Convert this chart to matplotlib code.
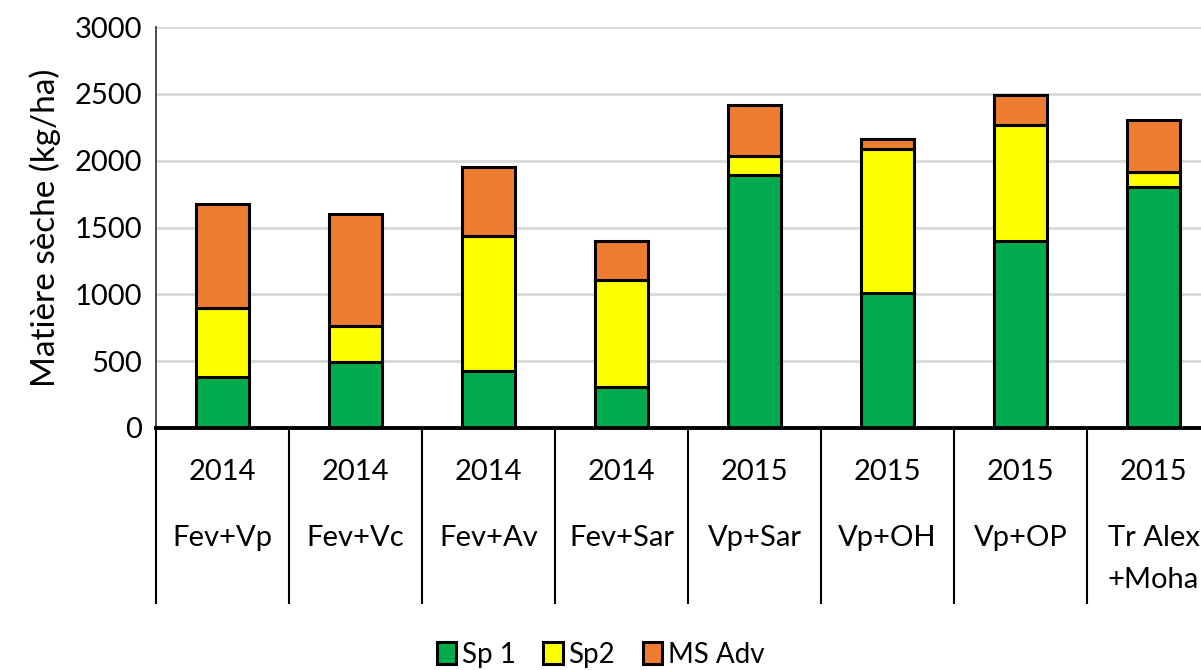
import matplotlib.pyplot as plt
import numpy as np

plt.rcParams['font.family'] = ['Lato', 'DejaVu Sans']

years = ["2014", "2014", "2014", "2014", "2015", "2015", "2015", "2015"]
names = ["Fev+Vp", "Fev+Vc", "Fev+Av", "Fev+Sar", "Vp+Sar", "Vp+OH", "Vp+OP", "Tr Alex\n+Moha"]
sp1 = [380, 495, 430, 305, 1895, 1010, 1400, 1800]
sp2 = [515, 265, 1010, 805, 140, 1080, 865, 115]
ms_adv = [780, 840, 510, 290, 385, 70, 225, 390]

colors = ["#00ac4e", "#ffff00", "#ed7d31"]
labels = ["Sp 1", "Sp2", "MS Adv"]

fig = plt.figure(figsize=(12.01, 6.70), dpi=100)
ax = fig.add_axes([156 / 1201, (670 - 428) / 670, (1220 - 156) / 1201, (428 - 27) / 670])

x = np.arange(len(names))
bottom = np.zeros(len(names))
for vals, c, lab in zip([sp1, sp2, ms_adv], colors, labels):
    ax.bar(x, vals, 0.4, bottom=bottom, color=c, edgecolor="black",
           linewidth=2.2, label=lab, zorder=3)
    bottom += np.array(vals)

ax.set_xlim(-0.5, len(names) - 0.5)
ax.set_ylim(0, 3000)
ax.set_yticks(range(0, 3001, 500))
ax.yaxis.grid(True, color="#d9d9d9", linewidth=2, zorder=0)
ax.tick_params(axis="y", length=0, labelsize=21, pad=10)
ax.set_xticks([])
for s in ["top", "right"]:
    ax.spines[s].set_visible(False)
ax.spines["left"].set_color("#404040")
ax.spines["left"].set_linewidth(1.3)
ax.spines["bottom"].set_linewidth(2.8)
ax.spines["bottom"].set_zorder(4)

ax.set_ylabel("Matière sèche (kg/ha)", fontsize=24, labelpad=10)

# two-level category axis
trans = ax.get_xaxis_transform()
for i in range(len(names) + 1):
    ax.plot([i - 0.5, i - 0.5], [0, -175 / 401], transform=trans,
            color="black", linewidth=1.5, clip_on=False)
for i in range(len(names)):
    ax.text(i, -44 / 401, years[i], transform=trans, ha="center", va="center",
            fontsize=21)
    ax.text(i, -97 / 401, names[i], transform=trans, ha="center", va="top",
            fontsize=21, linespacing=1.75)

fig.legend(loc="center", bbox_to_anchor=(0.5, 1 - 655 / 670), ncol=3,
           frameon=False, fontsize=20, handlelength=0.7, handleheight=0.85,
           handletextpad=0.2, columnspacing=1.0)

fig.savefig("out.png", dpi=100)
